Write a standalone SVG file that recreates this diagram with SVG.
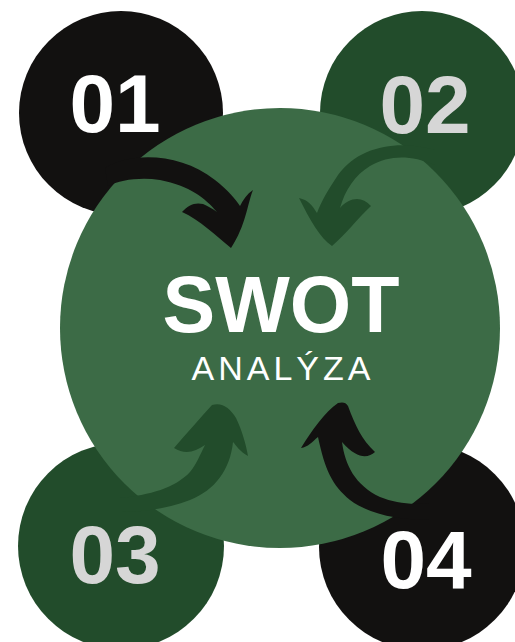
<svg xmlns="http://www.w3.org/2000/svg" width="515" height="642" viewBox="0 0 515 642">
<style>
.num{font-family:"Liberation Sans","DejaVu Sans",sans-serif;font-weight:bold;font-size:82px;text-anchor:middle}
.w{fill:#FFFFFF}
.g{fill:#D6D6D6}
.blk{fill:#121110}
.dg{fill:#224C2B}
</style>
<rect width="515" height="642" fill="#FFFFFF"/>
<g id="node-01"><circle cx="121" cy="113" r="102" class="blk"/></g>
<g id="node-02"><circle cx="422" cy="113" r="102" class="dg"/></g>
<g id="node-03"><circle cx="121" cy="546" r="103" class="dg"/></g>
<g id="node-04"><circle cx="422" cy="547" r="103" class="blk"/></g>
<g id="node-swot"><circle cx="280" cy="328" r="220" fill="#3C6B46"/></g>
<g id="connectors">
<path id="arrow-01" class="blk" d="M 105 168 C 130 152, 180 152, 215 180 C 228 190, 236 200, 240 206 C 243 200, 247 194, 253 190 C 247 205, 246 225, 231 248 C 215 235, 200 220, 182 212 C 188 205, 195 202, 203 204 C 208 206, 213 209, 217 212 C 205 198, 190 186, 160 180 C 140 177, 120 180, 108 186 Z"/>
<path id="arrow-02" class="dg" d="M 435 150 C 400 140, 360 145, 338 175 C 328 190, 322 200, 317 213 C 312 205, 308 200, 299 198 C 310 220, 320 238, 332 246 C 345 235, 358 218, 371 206 C 362 196, 350 197, 340 208 C 345 190, 355 175, 370 166 C 390 155, 410 155, 435 165 Z"/>
<path id="arrow-03" class="dg" d="M 120 498 C 150 495, 175 488, 190 472 C 196 465, 200 455, 205 445 C 195 452, 185 455, 174 448 C 188 432, 200 418, 212 405 C 222 402, 230 408, 236 418 C 242 430, 246 445, 248 456 C 240 452, 236 445, 233 442 C 230 470, 215 490, 190 500 C 170 508, 145 512, 120 512 Z"/>
<path id="arrow-04" class="blk" d="M 430 520 C 400 520, 370 515, 350 500 C 332 485, 325 470, 318 437 C 312 442, 308 447, 301 448 C 312 430, 325 412, 338 403 C 342 402, 346 402, 348 406 C 355 425, 362 440, 375 452 C 368 458, 358 460, 342 442 C 345 465, 355 485, 380 497 C 395 503, 410 505, 430 503 Z"/>
</g>
<g id="labels">
<text class="num w" x="115" y="132">01</text>
<text class="num g" x="425" y="133">02</text>
<text class="num g" x="115" y="583">03</text>
<text class="num w" x="426" y="588">04</text>
<text x="281" y="332" font-family="Liberation Sans, DejaVu Sans, sans-serif" font-weight="bold" font-size="79" fill="#FFFFFF" text-anchor="middle">SWOT</text>
<text x="283" y="380" font-family="Liberation Sans, DejaVu Sans, sans-serif" font-size="34" letter-spacing="4" fill="#FFFFFF" text-anchor="middle">ANALÝZA</text>
</g>
</svg>
